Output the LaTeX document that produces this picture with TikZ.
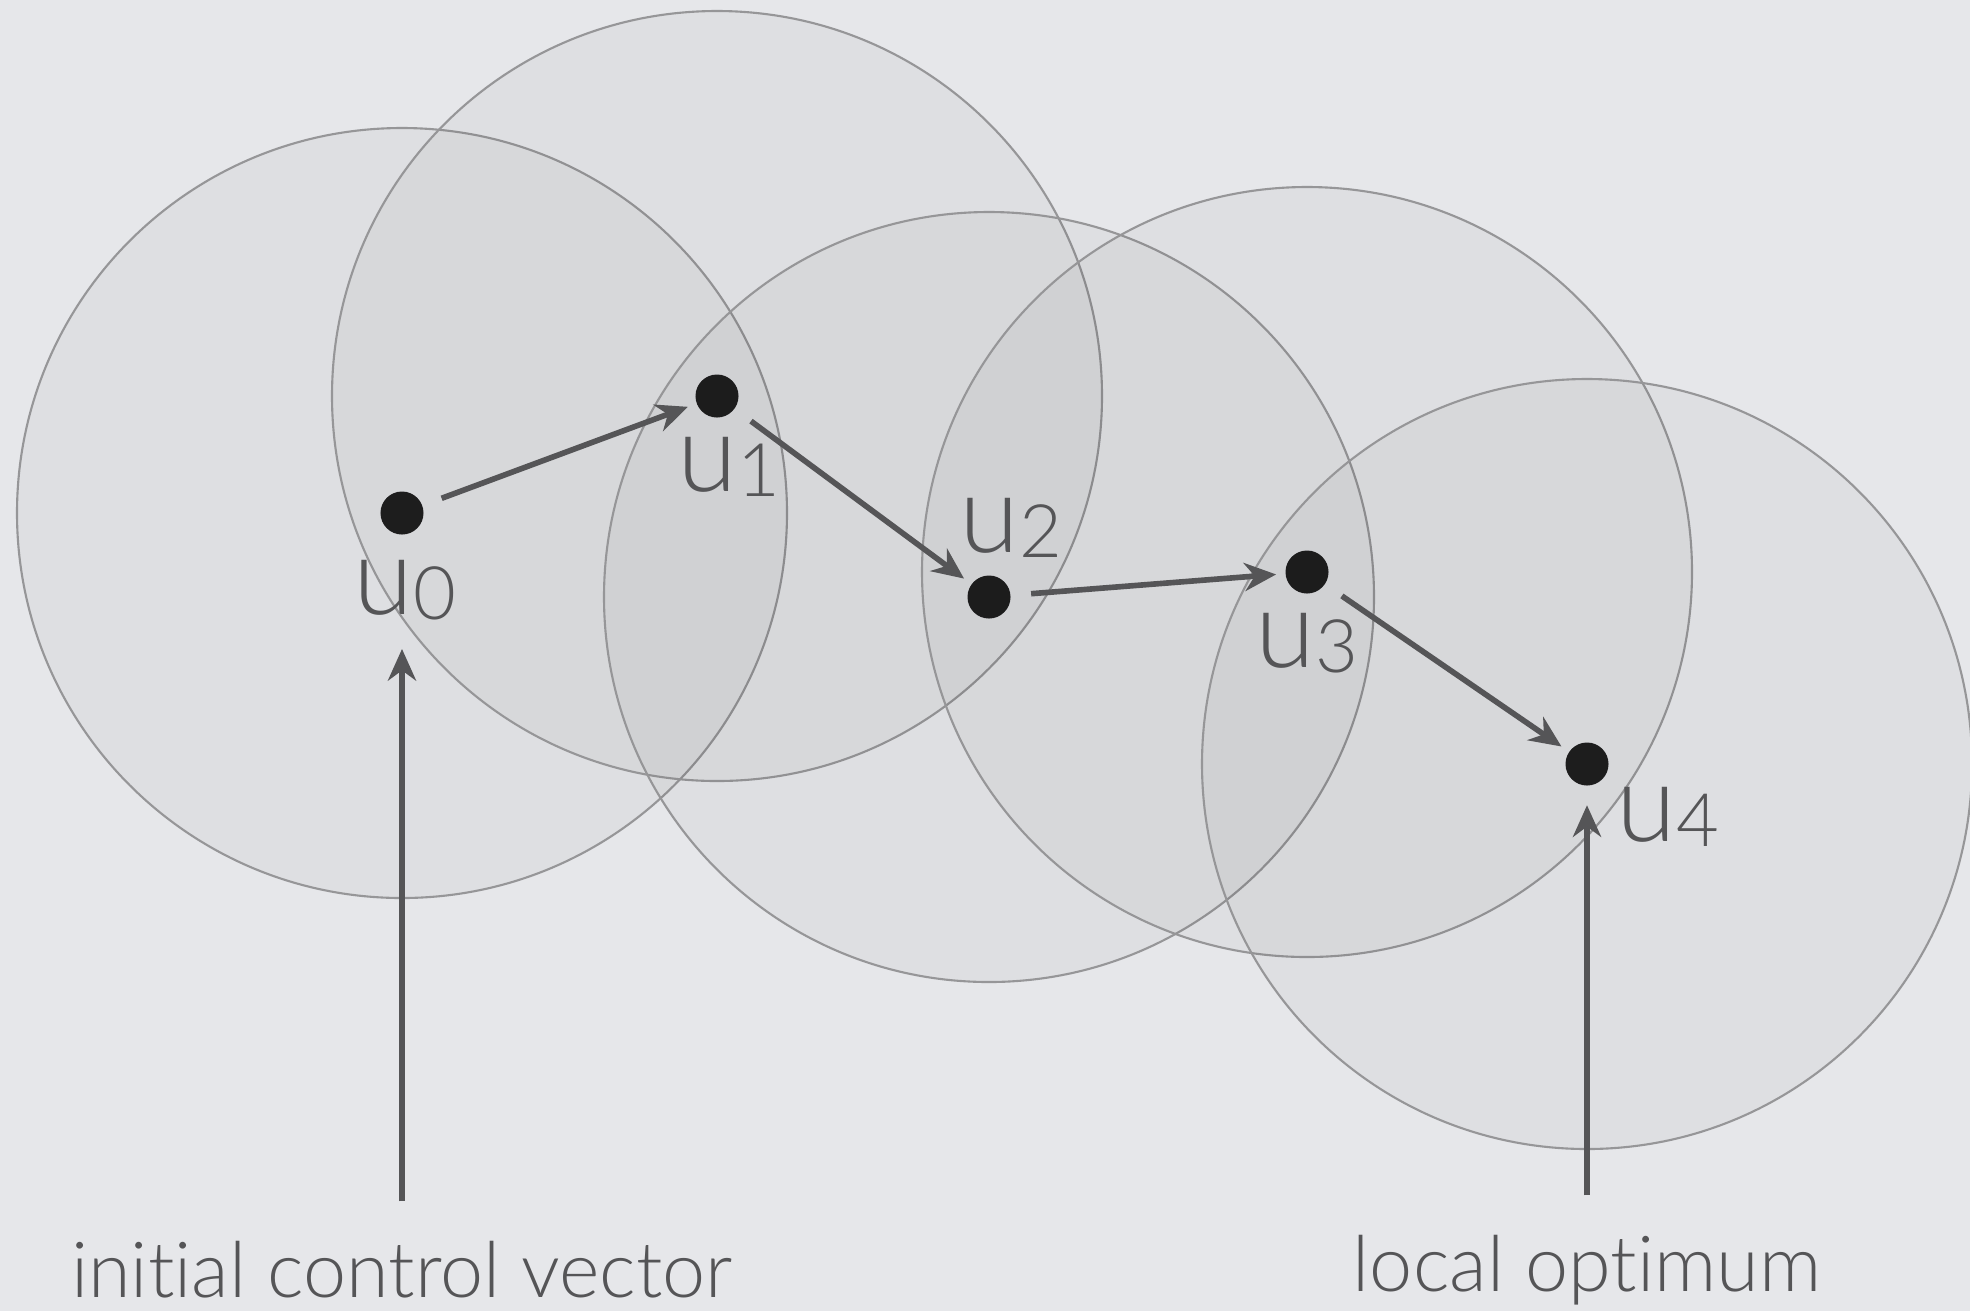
\documentclass[tikz,border=0pt]{standalone}
\usepackage{fontspec}
\setmainfont{Lato}[UprightFont=* Light,Ligatures={NoCommon}]
\usetikzlibrary{arrows.meta}
\definecolor{bg}{RGB}{230,231,234}
\definecolor{ring}{RGB}{150,150,152}
\definecolor{ink}{RGB}{85,85,87}
\definecolor{dotcol}{RGB}{32,32,32}
\tikzset{
	dot/.style={circle,fill=dotcol,inner sep=0pt,minimum size=0.43cm},
	ulabel/.style={text=ink,font=\fontsize{31}{34}\selectfont,inner sep=0pt},
	caption/.style={text=ink,font=\fontsize{22}{26}\selectfont,inner sep=0pt,anchor=base},
	pointer/.style={-{Stealth[length=9pt,width=8pt]},color=ink,line width=1.6pt}
}
\newcommand{\ulab}[1]{u\raisebox{-0.1ex}{\fontsize{21}{24}\selectfont #1}}
\begin{document}
	\begin{tikzpicture}[x=0.01cm,y=-0.01cm]
		\fill[bg] (0,0) rectangle (1970,1311);
		\useasboundingbox (0,0) rectangle (1970,1311);
		\node[dot] (u0) at (402,513) {};
		\node[dot] (u1) at (717,396) {};
		\node[dot] (u2) at (989,597) {};
		\node[dot] (u3) at (1307,572) {};
		\node[dot] (u4) at (1587,764) {};
		\foreach \u in {u0,u1,u2,u3,u4}
			\draw[color=ring,line width=0.6pt,fill=black,fill opacity=0.03] (\u) circle (385);
		\node[ulabel] (l0) at (405,590) {\ulab{0}};
		\node[ulabel] (l1) at (729,467) {\ulab{1}};
		\node[ulabel] (l2) at (1011,528) {\ulab{2}};
		\node[ulabel] (l3) at (1307,643) {\ulab{3}};
		\node[ulabel] (l4) at (1668,817) {\ulab{4}};
		\draw[pointer,shorten <=5.7pt,shorten >=2.5pt] (u0) -- (u1);
		\draw[pointer,shorten <=5.7pt,shorten >=2.5pt] (u1) -- (u2);
		\draw[pointer,shorten <=5.7pt,shorten >=2.5pt] (u2) -- (u3);
		\draw[pointer,shorten <=5.7pt,shorten >=2.5pt] (u3) -- (u4);
		\node[caption] (init) at (402,1297) {initial control vector};
		\node[caption] (opt) at (1587,1291) {local optimum};
		\draw[pointer,shorten <=11pt,shorten >=8pt] (init.north) -- (init.north |- l0.south);
		\draw[pointer,shorten <=11pt,shorten >=5.4pt] (opt.north) -- (u4);
	\end{tikzpicture}
\end{document}
